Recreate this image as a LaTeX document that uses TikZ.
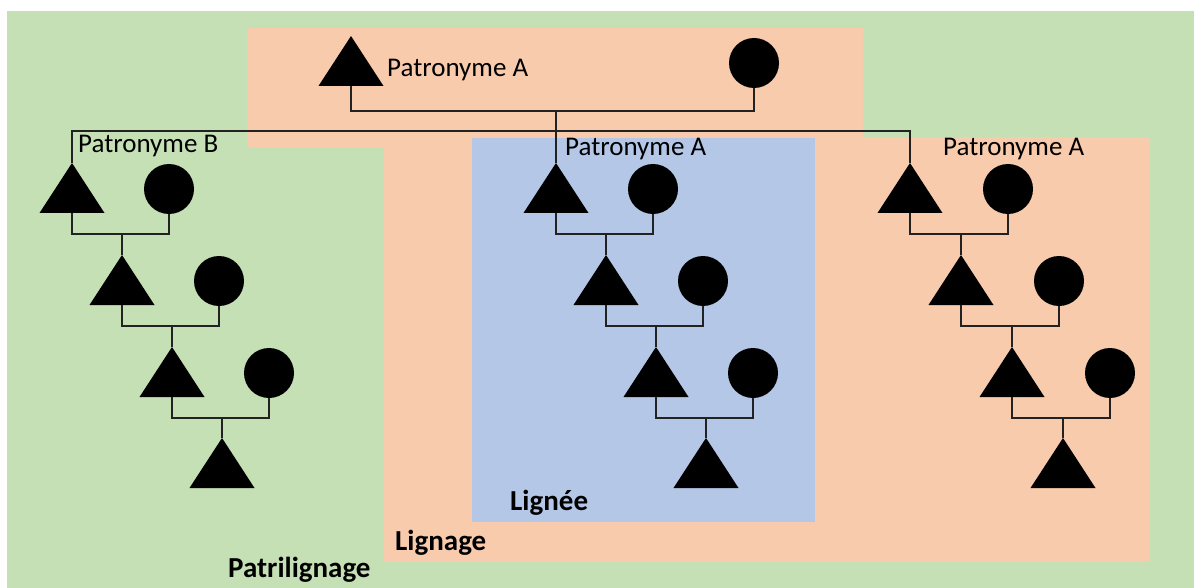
\documentclass[tikz,border=0pt]{standalone}
\usepackage{fontspec}
\setmainfont{Carlito}
\definecolor{bggreen}{HTML}{C5E0B4}
\definecolor{bgorange}{HTML}{F8CBAD}
\definecolor{bgblue}{HTML}{B4C7E7}
\definecolor{linecol}{HTML}{222222}
\tikzset{
  kin/.style={draw=linecol, line width=1.3pt},
  female/.style={circle, fill=black, minimum size=50pt, inner sep=0pt, outer sep=0pt},
  namelabel/.style={anchor=base west, inner sep=0pt, font=\fontsize{27}{32}\selectfont},
  grouplabel/.style={anchor=base west, inner sep=0pt, font=\fontsize{29}{34}\selectfont\bfseries},
}
\newcommand\maletri[2]{% name, apex position
  \coordinate (#1) at (#2);
  \coordinate (#1b) at ($(#1)+(0,50)$);
  \fill[black] (#1) -- ++(-32.5,50) -- ++(65,0) -- cycle;
}
\usetikzlibrary{calc}
\begin{document}
\begin{tikzpicture}[x=1pt,y=-1pt]
\useasboundingbox (0,0) rectangle (1194,588);
% backgrounds
\fill[bggreen] (7,11) rectangle (1194,588);
\fill[bgorange] (247,28) rectangle (863,148);
\fill[bgorange] (384,137) rectangle (1150,562);
\fill[bgblue] (472,138) rectangle (815,522);

% top couple
\maletri{T0}{351,36}
\node[female] (C0) at (754,63) {};
\coordinate (J0) at (556,111);
\draw[kin] (T0b) |- (J0) -| (C0.south);
% siblings
\coordinate (S0) at (556,131);
\maletri{L1}{72,163}
\maletri{M1}{556,163}
\maletri{R1}{910,163}
\draw[kin] (J0) -- (M1);
\draw[kin] (L1) |- (S0) -| (R1);

% left family
\node[female] (LC1) at (169,189) {};
\maletri{L2}{122,255}
\node[female] (LC2) at (219,281) {};
\maletri{L3}{172,347}
\node[female] (LC3) at (269,373) {};
\maletri{L4}{222,438}
\draw[kin] (L1b) |- (LC1.south |- 0,234) -- (LC1.south);
\draw[kin] (L2) -- (L2 |- 0,234);
\draw[kin] (L2b) |- (LC2.south |- 0,326) -- (LC2.south);
\draw[kin] (L3) -- (L3 |- 0,326);
\draw[kin] (L3b) |- (LC3.south |- 0,418) -- (LC3.south);
\draw[kin] (L4) -- (L4 |- 0,418);

% middle family
\node[female] (MC1) at (653,189) {};
\maletri{M2}{606,255}
\node[female] (MC2) at (703,281) {};
\maletri{M3}{656,347}
\node[female] (MC3) at (753,373) {};
\maletri{M4}{706,438}
\draw[kin] (M1b) |- (MC1.south |- 0,234) -- (MC1.south);
\draw[kin] (M2) -- (M2 |- 0,234);
\draw[kin] (M2b) |- (MC2.south |- 0,326) -- (MC2.south);
\draw[kin] (M3) -- (M3 |- 0,326);
\draw[kin] (M3b) |- (MC3.south |- 0,418) -- (MC3.south);
\draw[kin] (M4) -- (M4 |- 0,418);

% right family
\node[female] (RC1) at (1008,189) {};
\maletri{R2}{961,255}
\node[female] (RC2) at (1059,281) {};
\maletri{R3}{1012,347}
\node[female] (RC3) at (1110,373) {};
\maletri{R4}{1063,438}
\draw[kin] (R1b) |- (RC1.south |- 0,234) -- (RC1.south);
\draw[kin] (R2) -- (R2 |- 0,234);
\draw[kin] (R2b) |- (RC2.south |- 0,326) -- (RC2.south);
\draw[kin] (R3) -- (R3 |- 0,326);
\draw[kin] (R3b) |- (RC3.south |- 0,418) -- (RC3.south);
\draw[kin] (R4) -- (R4 |- 0,418);

% labels
\node[namelabel] (nA0) at (387,77) {Patronyme A};
\node[namelabel] (nB) at (78,153) {Patronyme B};
\node[namelabel] (nAm) at (565,156) {Patronyme A};
\node[namelabel] (nAr) at (943,156) {Patronyme A};
\node[grouplabel] (gLignee) at (510,510) {Lignée};
\node[grouplabel] (gLignage) at (395,550) {Lignage};
\node[grouplabel] (gPatri) at (228,577) {Patrilignage};
\end{tikzpicture}
\end{document}
